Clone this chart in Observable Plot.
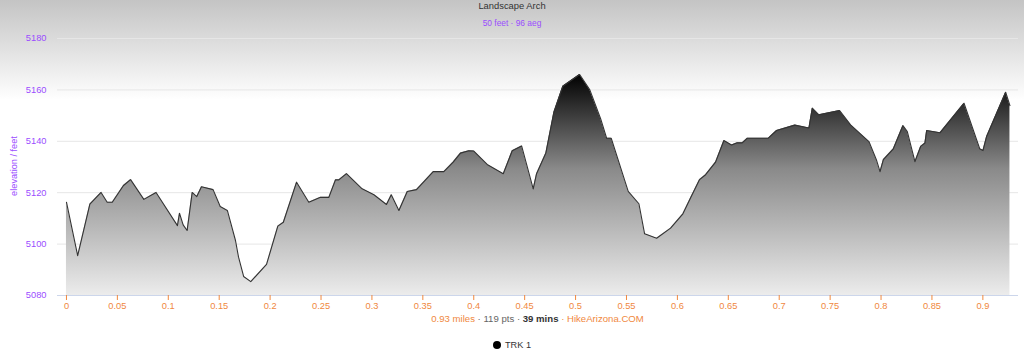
<!DOCTYPE html>
<html>
<head>
<meta charset="utf-8">
<script src="https://cdn.jsdelivr.net/npm/d3@7"></script>
<script src="https://cdn.jsdelivr.net/npm/@observablehq/plot@0.6"></script>
<style>
  body { margin: 0; background: #fff; }
  #chart { position: relative; width: 1024px; height: 358px; overflow: hidden;
    background: linear-gradient(to bottom, #c4c4c4 0px, #ffffff 100px, #ffffff 358px);
    font-family: "Liberation Sans", Arial, sans-serif; }
  .abs { position: absolute; white-space: nowrap; }
  #title { top: 0px; left: 0; width: 1024px; text-align: center; font-size: 9.4px; line-height: 12px; color: #333; }
  #subtitle { top: 18px; left: 0; width: 1024px; text-align: center; font-size: 8.4px; line-height: 10px; color: #9b4dff; }
  #plot { top: 30px; left: 0; }
  #ytitle { left: 14px; top: 166px; transform: translate(-50%, -50%) rotate(-90deg); font-size: 9.2px; color: #9b4dff; }
  #caption { top: 313px; left: 57px; width: 961px; text-align: center; font-size: 9.6px; line-height: 12px; }
  #legend { top: 339px; left: 0; width: 1024px; text-align: center; font-size: 9.2px; line-height: 12px; color: #333; }
  #legend .dot { display: inline-block; width: 8px; height: 8px; border-radius: 50%; background: #000; vertical-align: -1px; margin-right: 4px; }
</style>
</head>
<body>
<div id="chart">
  <div id="title" class="abs">Landscape Arch</div>
  <div id="subtitle" class="abs">50 feet · 96 aeg</div>
  <div id="plot" class="abs"></div>
  <div id="ytitle" class="abs">elevation / feet</div>
  <div id="caption" class="abs"><span style="color:#f0883e">0.93 miles</span><span style="color:#666"> · 119 pts · </span><span style="color:#333;font-weight:bold">39 mins</span><span style="color:#f0883e"> · HikeArizona.COM</span></div>
  <div id="legend" class="abs"><span class="dot"></span>TRK 1</div>
</div>
<script>
const miles = [0.000, 0.011, 0.023, 0.034, 0.040, 0.045, 0.056, 0.063, 0.076, 0.088,
  0.109, 0.111, 0.1146, 0.1185, 0.1235, 0.128, 0.1326, 0.144, 0.151, 0.158,
  0.166, 0.169, 0.174, 0.181, 0.1965, 0.2076, 0.213, 0.226, 0.238, 0.2495,
  0.2577, 0.2642, 0.2675, 0.275, 0.2904, 0.302, 0.3143, 0.319, 0.3265, 0.3347,
  0.3438, 0.3602, 0.3706, 0.3798, 0.387, 0.3952, 0.4001, 0.4132, 0.429, 0.4378,
  0.447, 0.4584, 0.4617, 0.4708, 0.4787, 0.4875, 0.504, 0.514, 0.5246, 0.5305,
  0.535, 0.5517, 0.5622, 0.5678, 0.5796, 0.5933, 0.6054, 0.613, 0.6218, 0.6277,
  0.6375, 0.6457, 0.6532, 0.6588, 0.6637, 0.6687, 0.6893, 0.6974, 0.7154, 0.7292,
  0.7325, 0.739, 0.7593, 0.7701, 0.7881, 0.7957, 0.799, 0.8023, 0.8121, 0.8215,
  0.8258, 0.8333, 0.8389, 0.8431, 0.8448, 0.8579, 0.8815, 0.8969, 0.9001, 0.9037,
  0.9224, 0.9266];
const elevation = [5116.3, 5095.5, 5115.6, 5120.1, 5116.3, 5116.3, 5122.8, 5125.1, 5117.4, 5120.1,
  5107.2, 5112.0, 5107.5, 5105.3, 5120.1, 5118.5, 5122.3, 5121.2, 5114.6, 5113.1,
  5101.4, 5094.9, 5087.4, 5085.4, 5092.1, 5107.0, 5108.5, 5124.1, 5116.3, 5118.2,
  5118.2, 5125.0, 5125.0, 5127.4, 5121.5, 5119.2, 5115.4, 5119.2, 5113.1, 5120.5,
  5121.2, 5128.2, 5128.2, 5131.9, 5135.4, 5136.3, 5136.2, 5131.0, 5127.4, 5136.3,
  5138.2, 5121.5, 5127.4, 5135.4, 5151.3, 5161.4, 5166.0, 5160.0, 5148.8, 5141.2,
  5141.2, 5120.5, 5115.7, 5104.0, 5102.3, 5106.2, 5111.8, 5118.0, 5125.1, 5127.0,
  5131.9, 5140.3, 5138.6, 5139.4, 5139.4, 5141.2, 5141.2, 5144.2, 5146.3, 5145.2,
  5152.9, 5150.3, 5152.0, 5146.4, 5139.9, 5132.5, 5128.2, 5132.9, 5137.1, 5146.1,
  5143.8, 5132.1, 5138.0, 5139.3, 5144.2, 5143.3, 5154.8, 5137.1, 5136.4, 5141.9,
  5159.1, 5153.9];
const yTicks = [5080, 5100, 5120, 5140, 5160, 5180];
const xTicks = [0, 0.05, 0.1, 0.15, 0.2, 0.25, 0.3, 0.35, 0.4, 0.45, 0.5, 0.55, 0.6, 0.65, 0.7, 0.75, 0.8, 0.85, 0.9];
const xTickLabels = ["0", "0.05", "0.1", "0.15", "0.2", "0.25", "0.3", "0.35", "0.4", "0.45", "0.5", "0.55", "0.6", "0.65", "0.7", "0.75", "0.8", "0.85", "0.9"];

const data = miles.map((m, i) => ({m, e: elevation[i]}));

const svg = Plot.plot({
  width: 1024,
  height: 290,
  marginLeft: 57,
  marginRight: 6,
  marginTop: 8,
  marginBottom: 25,
  style: {background: "transparent", fontFamily: "'Liberation Sans', Arial, sans-serif", fontSize: "9.3px", overflow: "visible"},
  x: {domain: [-0.0088, 0.935]},
  y: {domain: [5080, 5180]},
  marks: [
    Plot.gridY(yTicks, {stroke: "#e6e6e6", strokeOpacity: 1}),
    Plot.areaY(data, {x: "m", y1: 5080, y2: "e", fill: "url(#elevGrad)"}),
    Plot.lineY(data, {x: "m", y: "e", stroke: "#333", strokeWidth: 1.1}),
    Plot.ruleY([5080], {stroke: "#ccd6eb"}),
    Plot.axisX(xTicks, {tickSize: 5, tickPadding: 2, stroke: "#f0883e", fill: "#f0883e", label: null,
      tickFormat: d => xTickLabels[xTicks.indexOf(d)]}),
    Plot.axisY(yTicks, {tickSize: 0, tickPadding: 11, fill: "#9b4dff", label: null, tickFormat: d => String(d)})
  ]
});

const ns = "http://www.w3.org/2000/svg";
const defs = document.createElementNS(ns, "defs");
const grad = document.createElementNS(ns, "linearGradient");
grad.setAttribute("id", "elevGrad");
grad.setAttribute("x1", "0"); grad.setAttribute("y1", "0");
grad.setAttribute("x2", "0"); grad.setAttribute("y2", "1");
[["0", "#000000"], ["0.43", "#8a8a8a"], ["1", "#ececec"]].forEach(([o, c]) => {
  const s = document.createElementNS(ns, "stop");
  s.setAttribute("offset", o);
  s.setAttribute("stop-color", c);
  grad.appendChild(s);
});
defs.appendChild(grad);
svg.insertBefore(defs, svg.firstChild);
document.getElementById("plot").appendChild(svg);
</script>
</body>
</html>
